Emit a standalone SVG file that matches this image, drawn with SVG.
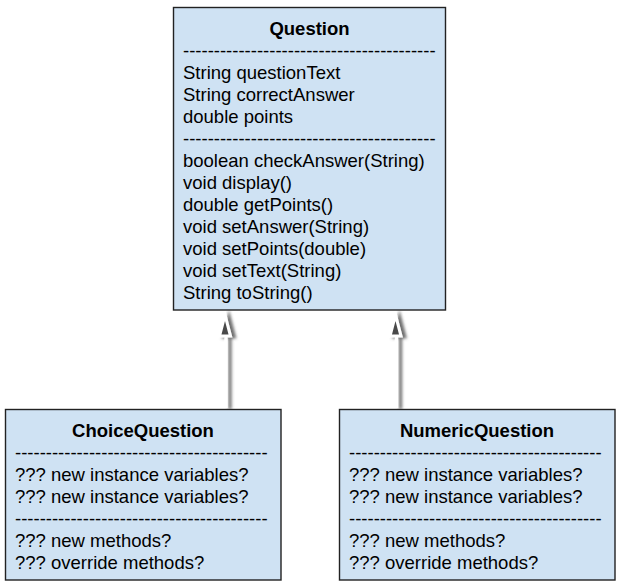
<svg xmlns="http://www.w3.org/2000/svg" width="621" height="587" viewBox="0 0 621 587">
<style>
.box{fill:#cfe2f3;stroke:#222;stroke-width:1.4}
text{font-family:"Liberation Sans",Arial,sans-serif;font-size:18.5px;fill:#000}
.t{font-weight:bold;text-anchor:middle}
.shaft{stroke:#fff;stroke-width:3.2;fill:none}
.head{stroke:#fff;stroke-width:3;fill:#4a4a4a;stroke-linejoin:miter}
</style>
<defs>
<filter id="sh" x="-100%" y="-20%" width="300%" height="140%">
<feGaussianBlur in="SourceAlpha" stdDeviation="1.5" result="b"/>
<feOffset dx="4" dy="1" result="o"/>
<feFlood flood-color="#555" flood-opacity="0.85"/>
<feComposite in2="o" operator="in" result="s"/>
<feMerge><feMergeNode in="s"/><feMergeNode in="SourceGraphic"/></feMerge>
</filter>
</defs>
<rect width="621" height="587" fill="#fff"/>
<g id="connectors">
<g filter="url(#sh)">
<line class="shaft" x1="226" y1="336" x2="226" y2="408"/>
<polygon class="head" points="225,315 219.5,336 230.5,336"/>
</g>
<g filter="url(#sh)">
<line class="shaft" x1="396.5" y1="336" x2="396.5" y2="408"/>
<polygon class="head" points="395.5,315 390,336 401,336"/>
</g>
</g>
<g id="Question">
<rect class="box" x="173.5" y="7.5" width="272" height="302.5"/>
<text class="t" x="309.5" y="34.5">Question</text>
<text x="183" y="56.5">-----------------------------------------</text>
<text x="183" y="78.5">String questionText</text>
<text x="183" y="100.5">String correctAnswer</text>
<text x="183" y="122.5">double points</text>
<text x="183" y="144.5">-----------------------------------------</text>
<text x="183" y="166.5">boolean checkAnswer(String)</text>
<text x="183" y="188.5">void display()</text>
<text x="183" y="210.5">double getPoints()</text>
<text x="183" y="232.5">void setAnswer(String)</text>
<text x="183" y="254.5">void setPoints(double)</text>
<text x="183" y="276.5">void setText(String)</text>
<text x="183" y="298.5">String toString()</text>
</g>
<g id="ChoiceQuestion">
<rect class="box" x="5.5" y="409.5" width="275.5" height="170.5"/>
<text class="t" x="143" y="436.5">ChoiceQuestion</text>
<text x="15" y="458.5">-----------------------------------------</text>
<text x="15" y="480.5">??? new instance variables?</text>
<text x="15" y="502.5">??? new instance variables?</text>
<text x="15" y="524.5">-----------------------------------------</text>
<text x="15" y="546.5">??? new methods?</text>
<text x="15" y="568.5">??? override methods?</text>
</g>
<g id="NumericQuestion">
<rect class="box" x="339.5" y="409.5" width="275.5" height="170.5"/>
<text class="t" x="477" y="436.5">NumericQuestion</text>
<text x="349" y="458.5">-----------------------------------------</text>
<text x="349" y="480.5">??? new instance variables?</text>
<text x="349" y="502.5">??? new instance variables?</text>
<text x="349" y="524.5">-----------------------------------------</text>
<text x="349" y="546.5">??? new methods?</text>
<text x="349" y="568.5">??? override methods?</text>
</g>
</svg>
